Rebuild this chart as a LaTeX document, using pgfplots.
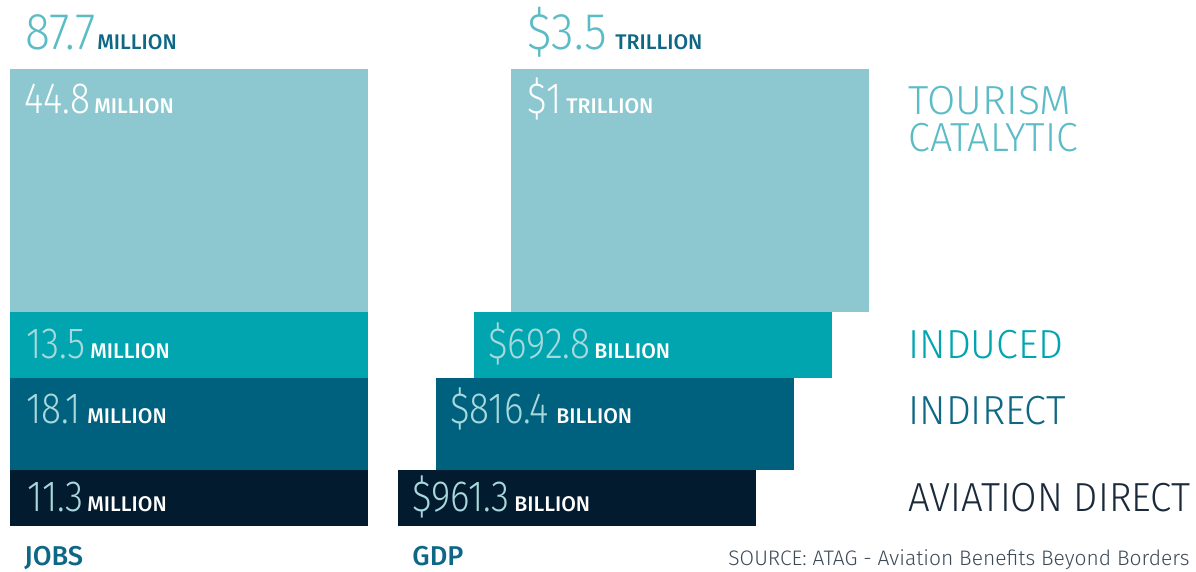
\documentclass[border=0pt]{standalone}
\usepackage{fontspec}
\usepackage{pgfplots}
\pgfplotsset{compat=1.18}
\setmainfont{Fira Sans}
\newfontfamily\numfont{Fira Sans Light}[FakeStretch=0.85]
\newfontfamily\topfont{Fira Sans Light}[FakeStretch=0.9]
\newfontfamily\labfont{Fira Sans Light}[FakeStretch=0.97]
\newfontfamily\labfontw{Fira Sans Light}[FakeStretch=1.01]
\newfontfamily\labfontn{Fira Sans Light}[FakeStretch=0.945]
\newfontfamily\srcfont{Fira Sans Light}
\newfontfamily\unitfont{Fira Sans Medium}

\definecolor{tour}{HTML}{8DC8D0}
\definecolor{induced}{HTML}{00A5B0}
\definecolor{indirect}{HTML}{00617F}
\definecolor{direct}{HTML}{031B2E}
\definecolor{toptxt}{HTML}{5BBCC6}
\definecolor{unit}{HTML}{0D6785}
\definecolor{innum}{HTML}{A8D8DC}
\definecolor{darklab}{HTML}{1A2A3A}

% x1 x2 ybottom ytop, in picture units (y counted from the top)
\newcommand{\seg}[5]{\addplot[fill=#1, draw=none] coordinates {(#2,#4) (#3,#4) (#3,#5) (#2,#5)} --cycle;}

\begin{document}
\begin{tikzpicture}
\begin{axis}[
    width=598pt, height=286pt, scale only axis,
    xmin=0, xmax=1196, ymin=0, ymax=572, y dir=reverse,
    hide axis, clip=false,
]
% jobs
\seg{direct}{10}{368}{526}{470}
\seg{indirect}{10}{368}{470}{378}
\seg{induced}{10}{368}{378}{312}
\seg{tour}{10}{368}{312}{69}
% gdp
\seg{direct}{398}{756}{526}{470}
\seg{indirect}{436}{794}{470}{378}
\seg{induced}{474}{832}{378}{312}
\seg{tour}{511}{869}{312}{69}

\tikzset{every node/.style={inner sep=0pt, anchor=base west}}
\node[text=toptxt, font=\topfont\fontsize{25.8}{26}\selectfont] at (axis cs:25,50) {87.7};
\node[text=unit, font=\unitfont\fontsize{10.6}{12}\selectfont] at (axis cs:97,50) {MILLION};
\node[text=toptxt, font=\topfont\fontsize{25.8}{26}\selectfont] at (axis cs:527,50) {\$3.5};
\node[text=unit, font=\unitfont\fontsize{10.6}{12}\selectfont] at (axis cs:615,50) {TRILLION};

\node[text=white, font=\numfont\fontsize{21.8}{22}\selectfont] at (axis cs:24,114) {44.8};
\node[text=white, font=\unitfont\fontsize{10.6}{12}\selectfont] at (axis cs:94,114) {MILLION};
\node[text=innum, font=\numfont\fontsize{21.8}{22}\selectfont] at (axis cs:26,359) {13.5};
\node[text=white, font=\unitfont\fontsize{10.6}{12}\selectfont] at (axis cs:90,359) {MILLION};
\node[text=innum, font=\numfont\fontsize{21.8}{22}\selectfont] at (axis cs:26,424) {18.1};
\node[text=white, font=\unitfont\fontsize{10.6}{12}\selectfont] at (axis cs:87,424) {MILLION};
\node[text=innum, font=\numfont\fontsize{21.8}{22}\selectfont] at (axis cs:27,512) {11.3};
\node[text=white, font=\unitfont\fontsize{10.6}{12}\selectfont] at (axis cs:87,512) {MILLION};

\node[text=white, font=\numfont\fontsize{21.8}{22}\selectfont] at (axis cs:527,114) {\$1};
\node[text=white, font=\unitfont\fontsize{10.6}{12}\selectfont] at (axis cs:566,114) {TRILLION};
\node[text=innum, font=\numfont\fontsize{21.8}{22}\selectfont] at (axis cs:488,359) {\$692.8};
\node[text=white, font=\unitfont\fontsize{10.6}{12}\selectfont] at (axis cs:594,359) {BILLION};
\node[text=innum, font=\numfont\fontsize{21.8}{22}\selectfont] at (axis cs:450,424) {\$816.4};
\node[text=white, font=\unitfont\fontsize{10.6}{12}\selectfont] at (axis cs:556,424) {BILLION};
\node[text=innum, font=\numfont\fontsize{21.8}{22}\selectfont] at (axis cs:412,512) {\$961.3};
\node[text=white, font=\unitfont\fontsize{10.6}{12}\selectfont] at (axis cs:514,512) {BILLION};

\node[text=toptxt, font=\labfontw\fontsize{20.3}{21}\selectfont] at (axis cs:908,115) {TOURISM};
\node[text=toptxt, font=\labfont\fontsize{20.3}{21}\selectfont] at (axis cs:908,152) {CATALYTIC};
\node[text=induced, font=\labfont\fontsize{20.3}{21}\selectfont] at (axis cs:908,359) {INDUCED};
\node[text=unit, font=\labfont\fontsize{20.3}{21}\selectfont] at (axis cs:908,425) {INDIRECT};
\node[text=darklab, font=\labfontn\fontsize{20.3}{21}\selectfont] at (axis cs:908,512) {AVIATION DIRECT};

\node[text=unit, font=\unitfont\fontsize{13.6}{15}\selectfont] at (axis cs:24,566) {JOBS};
\node[text=unit, font=\unitfont\fontsize{13.6}{15}\selectfont] at (axis cs:412,566) {GDP};
\node[anchor=base east, text=darklab!85, font=\srcfont\fontsize{10.5}{11}\selectfont] at (axis cs:1190,566) {SOURCE: ATAG - Aviation Benefits Beyond Borders};
\end{axis}
\pgfresetboundingbox
\useasboundingbox (current axis.south west) rectangle (current axis.north east);
\end{tikzpicture}
\end{document}
